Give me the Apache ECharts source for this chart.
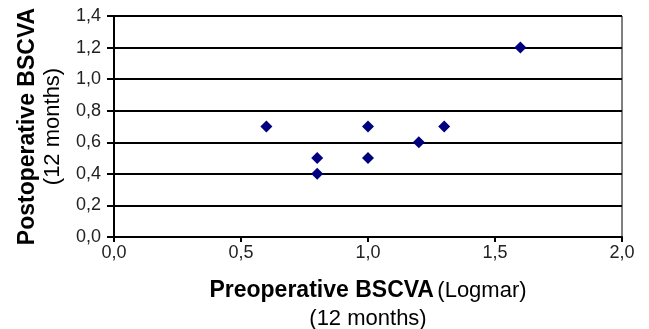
<!DOCTYPE html>
<html>
<head>
<meta charset="utf-8">
<script src="https://cdn.jsdelivr.net/npm/echarts@6/dist/echarts.min.js"></script>
<style>
  html, body { margin: 0; padding: 0; background: #fff; }
  #chart { width: 649px; height: 329px; }
</style>
</head>
<body>
<div id="chart"></div>
<script>
// preoperative vs postoperative BSCVA (logMAR)
const preop = [0.6, 0.8, 0.8, 1.0, 1.0, 1.2, 1.3, 1.6];
const postop = [0.7, 0.5, 0.4, 0.7, 0.5, 0.6, 0.7, 1.2];
const xTicks = [0, 0.5, 1.0, 1.5, 2.0];
const yTicks = [0, 0.2, 0.4, 0.6, 0.8, 1.0, 1.2, 1.4];

const chart = echarts.init(document.getElementById('chart'));
const fmt = v => v.toFixed(1).replace('.', ',');
const font = 'Liberation Sans, Arial, sans-serif';

const option = {
  animation: false,
  grid: {
    left: 114, right: 27, top: 16, bottom: 92,
    containLabel: false,
    outerBoundsMode: 'none',
    show: true, borderColor: '#000', borderWidth: 1
  },
  xAxis: {
    type: 'value',
    min: xTicks[0], max: xTicks[xTicks.length - 1], interval: 0.5,
    axisLine: { lineStyle: { color: '#000', width: 2 } },
    axisTick: { show: true, length: 5, lineStyle: { color: '#000', width: 2 } },
    splitLine: { show: false },
    axisLabel: { formatter: fmt, color: '#222', fontSize: 18, fontFamily: font, margin: 7 },
    name: '{b|Preoperative BSCVA} {n|(Logmar)}\n{n|(12 months)}',
    nameLocation: 'middle',
    nameGap: 40,
    nameTextStyle: {
      fontFamily: font,
      lineHeight: 28,
      rich: {
        b: { fontSize: 23, fontWeight: 'bold', color: '#000', fontFamily: font, lineHeight: 28 },
        n: { fontSize: 22, color: '#000', fontFamily: font, lineHeight: 28 }
      }
    }
  },
  yAxis: {
    type: 'value',
    min: yTicks[0], max: yTicks[yTicks.length - 1], interval: 0.2,
    axisLine: { show: true, lineStyle: { color: '#000', width: 2 } },
    axisTick: { show: true, length: 7, lineStyle: { color: '#000', width: 2 } },
    splitLine: { show: true, lineStyle: { color: '#000', width: 2 } },
    axisLabel: { formatter: fmt, color: '#222', fontSize: 18, fontFamily: font, margin: 13 },
    name: '{b|Postoperative BSCVA}\n{n|(12 months)}',
    nameLocation: 'middle',
    nameRotate: 90,
    nameGap: 48,
    nameTextStyle: {
      fontFamily: font,
      lineHeight: 25,
      rich: {
        b: { fontSize: 23, fontWeight: 'bold', color: '#000', fontFamily: font, lineHeight: 25 },
        n: { fontSize: 22, color: '#000', fontFamily: font, lineHeight: 25 }
      }
    }
  },
  series: [{
    type: 'scatter',
    symbol: 'diamond',
    symbolSize: 12,
    itemStyle: { color: '#000080', opacity: 1 },
    data: preop.map((x, i) => [x, postop[i]])
  }]
};

chart.setOption(option);
</script>
</body>
</html>
